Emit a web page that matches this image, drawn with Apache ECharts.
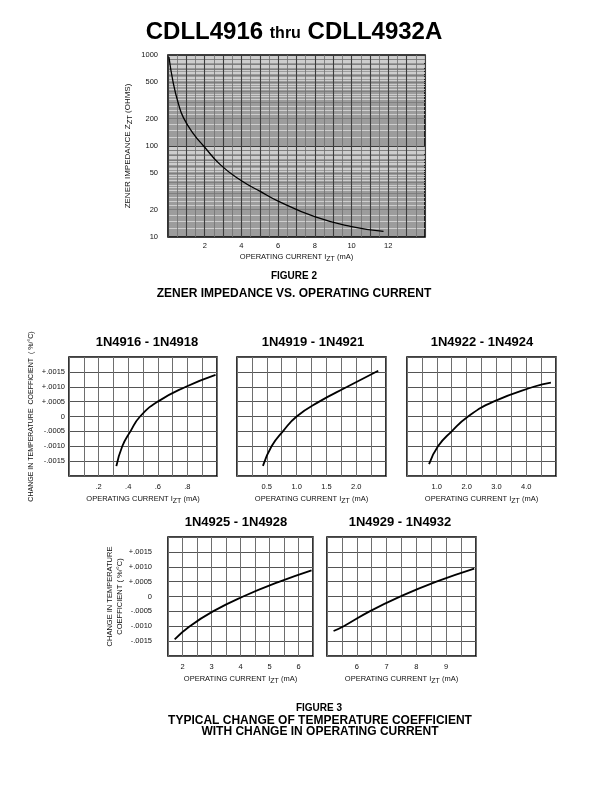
<!DOCTYPE html>
<html><head><meta charset="utf-8">
<script src="https://cdn.jsdelivr.net/npm/echarts@6/dist/echarts.min.js"></script>
<style>html,body{margin:0;padding:0;background:#fff}#c{width:612px;height:792px}</style>
</head><body><div id="c"></div>
<script>
// ---- Figure 2: Zener impedance vs operating current ----
const zzCurrent   = [0.05, 0.29, 0.57, 0.84, 1.4, 1.94, 2.86, 3.96, 5.05, 5.97, 7.99, 10.0, 11.74];
const zzImpedance = [950, 489, 290, 205, 135, 100, 62, 42, 31.5, 25, 16.7, 13, 11.5];
const zzTickLabels = [10, 20, 50, 100, 200, 500, 1000];

// ---- Figure 3: change in temperature coefficient ----
const g1Title = '1N4916 - 1N4918';
const g1Current = [0.32, 0.36, 0.415, 0.48, 0.60, 0.79, 0.99];
const g1Coef    = [-0.00167, -0.001, -0.0005, 0, 0.0005, 0.001, 0.0014];
const g2Title = '1N4919 - 1N4921';
const g2Current = [0.435, 0.58, 0.77, 1.0, 1.38, 1.85, 2.37];
const g2Coef    = [-0.00166, -0.001, -0.0005, 0, 0.0005, 0.001, 0.00154];
const g3Title = '1N4922 - 1N4924';
const g3Current = [0.74, 1.04, 1.5, 2.05, 2.9, 4.25, 4.83];
const g3Coef    = [-0.0016, -0.001, -0.0005, 0, 0.0005, 0.001, 0.00114];
const g4Title = '1N4925 - 1N4928';
const g4Current = [1.73, 2.25, 3.05, 4.09, 5.35, 6.45];
const g4Coef    = [-0.00144, -0.001, -0.0005, 0, 0.0005, 0.00088];
const g5Title = '1N4929 - 1N4932';
const g5Current = [5.22, 5.56, 6.43, 7.46, 8.67, 9.94];
const g5Coef    = [-0.00116, -0.001, -0.0005, 0, 0.0005, 0.00094];

const FONT = '"Liberation Sans", Arial, Helvetica, sans-serif';
const chart = echarts.init(document.getElementById('c'), null, {renderer: 'canvas'});

const xName = '{n|OPERATING CURRENT I}{s|ZT}{n| (mA)}';
const nameRich = {
  n: {fontSize: 7.5, fontFamily: FONT, color: '#111', lineHeight: 10, verticalAlign: 'top'},
  s: {fontSize: 7, fontFamily: FONT, color: '#111', lineHeight: 10, verticalAlign: 'bottom', padding: [4, 0, 0, 0]}
};

function tcLabel(v) {
  const k = Math.round(v / 0.0005);
  if (k === 0) return '0';
  if (Math.abs(k) > 3) return '';
  const s = (Math.abs(k) * 0.0005).toFixed(4).replace(/^0/, '');
  return (k > 0 ? '+' : '-') + s;
}

const grids = [
  {left: 168, top: 55, width: 257, height: 182},
  {left: 69, top: 357, width: 148, height: 119},
  {left: 237, top: 357, width: 149, height: 119},
  {left: 407, top: 357, width: 149, height: 119},
  {left: 168, top: 537, width: 145, height: 119},
  {left: 327, top: 537, width: 149, height: 119}
].map((g, i) => Object.assign(g, {
  show: true, borderColor: '#000', borderWidth: 1.6,
  backgroundColor: i === 0 ? '#9c9c9c' : '#fff'
}));

const smallX = [
  {min: 0, max: 1, interval: 0.1, fmt: v => { const k = Math.round(v * 10); return [2,4,6,8].includes(k) ? '.' + k : ''; }},
  {min: 0, max: 2.5, interval: 0.25, fmt: v => { const k = Math.round(v * 4); return [2,4,6,8].includes(k) ? (k / 4).toFixed(1) : ''; }},
  {min: 0, max: 5, interval: 0.5, fmt: v => { const k = Math.round(v * 2); return [2,4,6,8].includes(k) ? (k / 2).toFixed(1) : ''; }},
  {min: 1.5, max: 6.5, interval: 0.5, fmt: v => { const k = Math.round(v * 2); return [4,6,8,10,12].includes(k) ? String(k / 2) : ''; }},
  {min: 5, max: 10, interval: 0.5, fmt: v => { const k = Math.round(v * 2); return [12,14,16,18].includes(k) ? String(k / 2) : ''; }}
];

const xAxes = [{
  gridIndex: 0, type: 'value', min: 0, max: 14, interval: 2,
  axisLine: {show: false}, axisTick: {show: false},
  axisLabel: {fontSize: 7.5, fontFamily: FONT, color: '#111', margin: 5,
    formatter: v => (v > 0 && v < 14 ? String(v) : '')},
  splitLine: {show: false},
  name: xName, nameLocation: 'middle', nameGap: 16,
  nameTextStyle: {rich: nameRich}
}, {
  // fine vertical rulings of the graph paper
  gridIndex: 0, type: 'value', min: 0, max: 14, interval: 1, z: 3,
  axisLine: {show: false}, axisTick: {show: false}, axisLabel: {show: false},
  splitLine: {show: true, lineStyle: {color: '#3c3c3c', width: 1.1}},
  minorTick: {show: false, splitNumber: 2},
  minorSplitLine: {show: true, lineStyle: {color: '#707070', width: 0.8}}
}];
smallX.forEach((s, i) => xAxes.push({
  gridIndex: i + 1, type: 'value', min: s.min, max: s.max, interval: s.interval,
  axisLine: {show: false}, axisTick: {show: false},
  axisLabel: {fontSize: 7.5, fontFamily: FONT, color: '#111', margin: 7, formatter: s.fmt,
    showMinLabel: true, showMaxLabel: true},
  splitLine: {show: true, lineStyle: {color: '#6e6e6e', width: 1}},
  name: xName, nameLocation: 'middle', nameGap: 19,
  nameTextStyle: {rich: nameRich}
}));

const yAxes = [{
  gridIndex: 0, type: 'log', logBase: 10, min: 10, max: 1000,
  axisLine: {show: false}, axisTick: {show: false, customValues: zzTickLabels},
  axisLabel: {fontSize: 7.5, fontFamily: FONT, color: '#111', margin: 10, customValues: zzTickLabels,
    formatter: v => String(Math.round(v))},
  splitLine: {show: true, lineStyle: {color: '#444', width: 1.2}},
  minorTick: {show: false, splitNumber: 36},
  minorSplitLine: {show: true, lineStyle: {color: '#d4d4d4', width: 0.9}},
  name: '{n|ZENER IMPEDANCE Z}{s|ZT}{n| (OHMS)}', nameLocation: 'middle', nameGap: 34, nameRotate: 90,
  nameTextStyle: {rich: {
    n: {fontSize: 8, fontFamily: FONT, color: '#111', lineHeight: 10, verticalAlign: 'top'},
    s: {fontSize: 7.5, fontFamily: FONT, color: '#111', lineHeight: 10, verticalAlign: 'bottom', padding: [4, 0, 0, 0]}
  }}
}, {
  // darker log rulings
  gridIndex: 0, type: 'log', logBase: 10, min: 10, max: 1000, z: 2,
  axisLine: {show: false}, axisTick: {show: false}, axisLabel: {show: false},
  splitLine: {show: true, lineStyle: {color: '#3c3c3c', width: 1.2}},
  minorTick: {show: false, splitNumber: 9},
  minorSplitLine: {show: true, lineStyle: {color: '#6c6c6c', width: 0.8}}
}];
for (let i = 1; i <= 5; i++) {
  const y = {
    gridIndex: i, type: 'value', min: -0.002, max: 0.002, interval: 0.0005,
    axisLine: {show: false}, axisTick: {show: false},
    axisLabel: {show: i === 1 || i === 4, fontSize: 7.5, fontFamily: FONT, color: '#111',
      margin: i === 1 ? 4 : 16, formatter: tcLabel},
    splitLine: {show: true, lineStyle: {color: '#555', width: 1}}
  };
  if (i === 1) {
    Object.assign(y, {name: 'CHANGE IN TEMPERATURE  COEFFICIENT  ( %/°C)', nameLocation: 'middle',
      nameGap: 34, nameRotate: 90, nameTextStyle: {fontSize: 7, fontFamily: FONT, color: '#111'}});
  }
  if (i === 4) {
    Object.assign(y, {name: 'CHANGE IN TEMPERATURE\nCOEFFICIENT ( %/°C)', nameLocation: 'middle',
      nameGap: 39, nameRotate: 90, nameTextStyle: {fontSize: 7.5, fontFamily: FONT, color: '#111', lineHeight: 10}});
  }
  yAxes.push(y);
}

function zip(a, b) { return a.map((v, i) => [v, b[i]]); }
const seriesData = [
  zip(zzCurrent, zzImpedance),
  zip(g1Current, g1Coef), zip(g2Current, g2Coef), zip(g3Current, g3Coef),
  zip(g4Current, g4Coef), zip(g5Current, g5Coef)
];
const axisPairs = [[0, 0], [2, 2], [3, 3], [4, 4], [5, 5], [6, 6]];
const series = seriesData.map((d, i) => ({
  type: 'line', xAxisIndex: axisPairs[i][0], yAxisIndex: axisPairs[i][1], data: d,
  smooth: 0.5, z: 5,
  showSymbol: false, symbol: 'none', silent: true, animation: false,
  lineStyle: {color: '#000', width: i === 0 ? 1.3 : 1.8}
}));

function txt(text, x, y, size, extra) {
  return {type: 'text', x: x, y: y, silent: true,
    style: Object.assign({text: text, textAlign: 'center', textVerticalAlign: 'middle',
      font: 'bold ' + size + 'px ' + FONT, fill: '#000'}, extra || {})};
}

const graphics = [
  {type: 'text', x: 294, y: 32, silent: true, style: {
    text: '{a|CDLL4916 }{b|thru}{a| CDLL4932A}', textAlign: 'center', textVerticalAlign: 'middle',
    rich: {a: {font: 'bold 24px ' + FONT, fill: '#000'}, b: {font: 'bold 16px ' + FONT, fill: '#000', padding: [4, 0, 0, 0]}}}},
  txt('FIGURE 2', 294, 276, 10),
  txt('ZENER IMPEDANCE VS. OPERATING CURRENT', 294, 294, 12),
  txt(g1Title, 147, 342, 13),
  txt(g2Title, 313, 342, 13),
  txt(g3Title, 482, 342, 13),
  txt(g4Title, 236, 522, 13),
  txt(g5Title, 400, 522, 13),
  txt('FIGURE 3', 319, 708, 10),
  txt('TYPICAL CHANGE OF TEMPERATURE COEFFICIENT', 320, 721, 12),
  txt('WITH CHANGE IN OPERATING CURRENT', 320, 732, 12)
];

chart.setOption({
  animation: false,
  textStyle: {fontFamily: FONT},
  grid: grids, xAxis: xAxes, yAxis: yAxes, series: series,
  graphic: graphics
});
</script></body></html>
